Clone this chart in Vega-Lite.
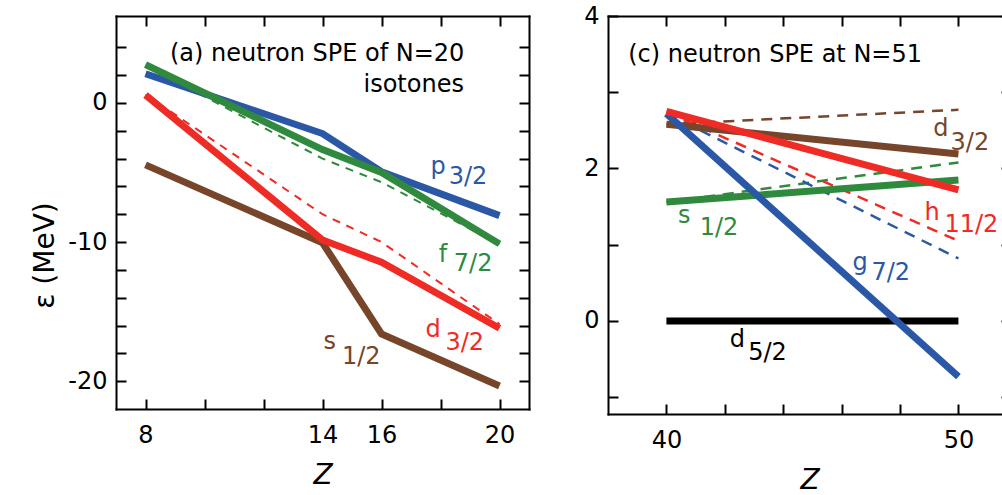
{
  "$schema": "https://vega.github.io/schema/vega-lite/v6.json",
  "padding": {"left": 31, "top": 4, "right": 0, "bottom": 0},
  "background": "white",
  "spacing": 79,
  "bounds": "flush",
  "config": {
    "view": {"stroke": null},
    "axis": {
      "grid": false,
      "domainColor": "black",
      "domainWidth": 2,
      "domainCap": "square",
      "tickColor": "black",
      "tickWidth": 2,
      "tickSize": -10,
      "labelFont": "DejaVu Sans",
      "labelFontSize": 24,
      "labelColor": "black",
      "labelPadding": 19,
      "labelOverlap": false,
      "labelFlush": false,
      "titleFont": "DejaVu Sans",
      "titleColor": "black",
      "titleFontWeight": "normal"
    },
    "text": {"font": "DejaVu Sans", "fontSize": 24, "align": "left", "baseline": "alphabetic"}
  },
  "datasets": {
    "a_solid": [
      {"s": "a_s12", "Z": 8, "E": -4.45},
      {"s": "a_s12", "Z": 14, "E": -10.05},
      {"s": "a_s12", "Z": 16, "E": -16.6},
      {"s": "a_s12", "Z": 20, "E": -20.35},
      {"s": "a_p32", "Z": 8, "E": 2.1},
      {"s": "a_p32", "Z": 14, "E": -2.2},
      {"s": "a_p32", "Z": 16, "E": -4.95},
      {"s": "a_p32", "Z": 20, "E": -8.1},
      {"s": "a_f72", "Z": 8, "E": 2.75},
      {"s": "a_f72", "Z": 14, "E": -3.35},
      {"s": "a_f72", "Z": 16, "E": -5.0},
      {"s": "a_f72", "Z": 20, "E": -10.13},
      {"s": "a_d32", "Z": 8, "E": 0.57},
      {"s": "a_d32", "Z": 14, "E": -9.85},
      {"s": "a_d32", "Z": 16, "E": -11.45},
      {"s": "a_d32", "Z": 20, "E": -16.2}
    ],
    "a_dash": [
      {"s": "a_f72", "Z": 8, "E": 2.7},
      {"s": "a_f72", "Z": 14, "E": -4.0},
      {"s": "a_f72", "Z": 16, "E": -5.7},
      {"s": "a_f72", "Z": 20, "E": -10.15},
      {"s": "a_d32", "Z": 8, "E": 0.6},
      {"s": "a_d32", "Z": 14, "E": -8.0},
      {"s": "a_d32", "Z": 16, "E": -10.0},
      {"s": "a_d32", "Z": 20, "E": -15.9}
    ],
    "a_text": [
      {"s": "k", "Z": 8.83, "E": 3.04, "t": "(a) neutron SPE of N=20"},
      {"s": "k", "Z": 15.39, "E": 0.77, "t": "isotones"},
      {"s": "a_p32", "Z": 17.66, "E": -5.1, "t": "p"},
      {"s": "a_p32", "Z": 18.28, "E": -5.82, "t": "3/2"},
      {"s": "a_f72", "Z": 17.94, "E": -11.44, "t": "f"},
      {"s": "a_f72", "Z": 18.45, "E": -12.05, "t": "7/2"},
      {"s": "a_d32", "Z": 17.49, "E": -16.83, "t": "d"},
      {"s": "a_d32", "Z": 18.17, "E": -17.79, "t": "3/2"},
      {"s": "a_s12", "Z": 14.03, "E": -17.67, "t": "s"},
      {"s": "a_s12", "Z": 14.66, "E": -18.75, "t": "1/2"}
    ],
    "c_solid": [
      {"s": "c_d52", "Z": 40, "E": 0},
      {"s": "c_d52", "Z": 50, "E": 0},
      {"s": "c_d32", "Z": 40, "E": 2.58},
      {"s": "c_d32", "Z": 50, "E": 2.19},
      {"s": "c_s12", "Z": 40, "E": 1.56},
      {"s": "c_s12", "Z": 50, "E": 1.85},
      {"s": "c_g72", "Z": 40, "E": 2.72},
      {"s": "c_g72", "Z": 50, "E": -0.73},
      {"s": "c_h112", "Z": 40, "E": 2.75},
      {"s": "c_h112", "Z": 50, "E": 1.72}
    ],
    "c_dash": [
      {"s": "c_d32", "Z": 40, "E": 2.58},
      {"s": "c_d32", "Z": 50, "E": 2.77},
      {"s": "c_s12", "Z": 40, "E": 1.56},
      {"s": "c_s12", "Z": 50, "E": 2.08},
      {"s": "c_g72", "Z": 40, "E": 2.72},
      {"s": "c_g72", "Z": 50, "E": 0.82},
      {"s": "c_h112", "Z": 40, "E": 2.74},
      {"s": "c_h112", "Z": 50, "E": 1.05}
    ],
    "c_text": [
      {"s": "k", "Z": 38.69, "E": 3.4, "t": "(c) neutron SPE at N=51"},
      {"s": "c_d32", "Z": 49.14, "E": 2.42, "t": "d"},
      {"s": "c_d32", "Z": 49.73, "E": 2.24, "t": "3/2"},
      {"s": "c_h112", "Z": 48.84, "E": 1.32, "t": "h"},
      {"s": "c_h112", "Z": 49.52, "E": 1.17, "t": "11/2"},
      {"s": "c_g72", "Z": 46.37, "E": 0.665, "t": "g"},
      {"s": "c_g72", "Z": 47.02, "E": 0.534, "t": "7/2"},
      {"s": "c_s12", "Z": 40.4, "E": 1.28, "t": "s"},
      {"s": "c_s12", "Z": 41.14, "E": 1.125, "t": "1/2"},
      {"s": "c_d52", "Z": 42.17, "E": -0.34, "t": "d"},
      {"s": "c_d52", "Z": 42.8, "E": -0.516, "t": "5/2"}
    ]
  },
  "hconcat": [
    {
      "width": 413,
      "height": 393,
      "layer": [
        {
          "mark": {"type": "rule", "color": "black", "strokeWidth": 2.5, "strokeDash": [3, 3]},
          "encoding": {
            "y": {"datum": 0, "type": "quantitative", "scale": {"domain": [-22, 6.25], "nice": false, "zero": false}, "axis": null}
          }
        },
        {
          "data": {"name": "a_dash"},
          "mark": {"type": "line", "strokeWidth": 2, "strokeDash": [8, 7]},
          "encoding": {
            "x": {"field": "Z", "type": "quantitative", "scale": {"domain": [7, 21], "nice": false, "zero": false},
                  "axis": {"orient": "top", "values": [8, 10, 12, 14, 16, 18, 20], "labels": false, "title": null}},
            "y": {"field": "E", "type": "quantitative", "scale": {"domain": [-22, 6.25], "nice": false, "zero": false},
                  "axis": {"orient": "right", "values": [-20, -18, -16, -14, -12, -10, -8, -6, -4, -2, 0, 2, 4], "labels": false, "title": null}},
            "color": {"field": "s", "type": "nominal", "legend": null,
                      "scale": {"domain": ["k", "a_s12", "a_p32", "a_f72", "a_d32", "c_d52", "c_d32", "c_s12", "c_g72", "c_h112"],
                                "range": ["#000000", "#76452a", "#2b58a6", "#2f8a3e", "#ee2b24", "#000000", "#76452a", "#2f8a3e", "#2b58a6", "#ee2b24"]}},
            "detail": {"field": "s"}
          }
        },
        {
          "data": {"name": "a_solid"},
          "mark": {"type": "line", "strokeWidth": 7},
          "encoding": {
            "x": {"field": "Z", "type": "quantitative", "scale": {"domain": [7, 21], "nice": false, "zero": false},
                  "axis": {"orient": "bottom", "values": [8, 10, 12, 14, 16, 18, 20], "labelPadding": 24,
                           "labelExpr": "indexof([8, 14, 16, 20], datum.value) >= 0 ? datum.label : ''",
                           "title": "Z", "titleFontSize": 28, "titleFontStyle": "italic", "titlePadding": 14}},
            "y": {"field": "E", "type": "quantitative", "scale": {"domain": [-22, 6.25], "nice": false, "zero": false},
                  "axis": {"orient": "left", "values": [-20, -18, -16, -14, -12, -10, -8, -6, -4, -2, 0, 2, 4],
                           "labelExpr": "indexof([-20, -10, 0], datum.value) >= 0 ? replace(datum.label, '−', '-') : ''",
                           "title": "ε (MeV)", "titleFontSize": 28, "titlePadding": 8, "titleY": 239}},
            "color": {"field": "s", "type": "nominal", "legend": null},
            "detail": {"field": "s"}
          }
        },
        {
          "data": {"name": "a_text"},
          "mark": {"type": "text"},
          "encoding": {
            "x": {"field": "Z", "type": "quantitative", "axis": null},
            "y": {"field": "E", "type": "quantitative", "axis": null},
            "text": {"field": "t"},
            "color": {"field": "s", "type": "nominal", "legend": null}
          }
        }
      ],
      "resolve": {"axis": {"x": "independent", "y": "independent"}}
    },
    {
      "width": 403,
      "height": 398,
      "layer": [
        {
          "data": {"name": "c_dash"},
          "mark": {"type": "line", "strokeWidth": 2.5, "strokeDash": [11, 8]},
          "encoding": {
            "x": {"field": "Z", "type": "quantitative", "scale": {"domain": [38, 51.8], "nice": false, "zero": false},
                  "axis": {"orient": "top", "values": [40, 42, 44, 46, 48, 50], "labels": false, "title": null}},
            "y": {"field": "E", "type": "quantitative", "scale": {"domain": [-1.22, 4], "nice": false, "zero": false},
                  "axis": {"orient": "right", "values": [-1, 0, 1, 2, 3, 4], "labels": false, "title": null}},
            "color": {"field": "s", "type": "nominal", "legend": null,
                      "scale": {"domain": ["k", "a_s12", "a_p32", "a_f72", "a_d32", "c_d52", "c_d32", "c_s12", "c_g72", "c_h112"],
                                "range": ["#000000", "#76452a", "#2b58a6", "#2f8a3e", "#ee2b24", "#000000", "#76452a", "#2f8a3e", "#2b58a6", "#ee2b24"]}},
            "detail": {"field": "s"}
          }
        },
        {
          "data": {"name": "c_solid"},
          "mark": {"type": "line", "strokeWidth": 7},
          "encoding": {
            "x": {"field": "Z", "type": "quantitative", "scale": {"domain": [38, 51.8], "nice": false, "zero": false},
                  "axis": {"orient": "bottom", "values": [40, 42, 44, 46, 48, 50], "labelPadding": 24,
                           "labelExpr": "indexof([40, 50], datum.value) >= 0 ? datum.label : ''",
                           "title": "Z", "titleFontSize": 28, "titleFontStyle": "italic", "titlePadding": 14}},
            "y": {"field": "E", "type": "quantitative", "scale": {"domain": [-1.22, 4], "nice": false, "zero": false},
                  "axis": {"orient": "left", "values": [-1, 0, 1, 2, 3, 4],
                           "labelExpr": "indexof([0, 2, 4], datum.value) >= 0 ? datum.label : ''",
                           "title": null}},
            "color": {"field": "s", "type": "nominal", "legend": null},
            "detail": {"field": "s"}
          }
        },
        {
          "data": {"name": "c_text"},
          "mark": {"type": "text"},
          "encoding": {
            "x": {"field": "Z", "type": "quantitative", "axis": null},
            "y": {"field": "E", "type": "quantitative", "axis": null},
            "text": {"field": "t"},
            "color": {"field": "s", "type": "nominal", "legend": null}
          }
        }
      ],
      "resolve": {"axis": {"x": "independent", "y": "independent"}}
    }
  ]
}
